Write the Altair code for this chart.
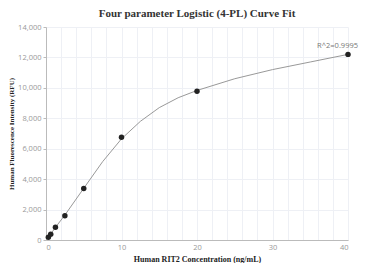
import altair as alt
import pandas as pd

conc = [0.3125, 0.625, 1.25, 2.5, 5, 10, 20, 40]
signal = [180, 380, 840, 1600, 3380, 6750, 9780, 12200]

curve_x = [0.15, 0.3125, 0.625, 1.25, 2.5, 5, 7.5, 10, 12.5, 15, 17.5, 20, 25, 30, 35, 40]
curve_y = [80, 180, 390, 830, 1640, 3400, 5150, 6650, 7800, 8700, 9350, 9830, 10600, 11200, 11700, 12200]

x_grid = list(range(0, 41, 2))
y_ticks = list(range(0, 14001, 2000))
title_text = "Four parameter Logistic (4-PL) Curve Fit"
x_title = "Human RIT2 Concentration (ng/mL)"
y_title = "Human Fluorescence Intensity (RFU)"
r2_label = "R^2=0.9995"

pts = pd.DataFrame({"x": conc, "y": signal})
crv = pd.DataFrame({"x": curve_x, "y": curve_y})
lab = pd.DataFrame({"x": [conc[-1]], "y": [signal[-1]], "t": [r2_label]})

xscale = alt.Scale(domain=[0, 40], nice=False, zero=True)
yscale = alt.Scale(domain=[0, 14000], nice=False)

xaxis = alt.Axis(values=x_grid, labelExpr="datum.value % 10 == 0 ? datum.label : ''",
                 ticks=False, labelOverlap=False, labelColor="#999", labelFontSize=7.5,
                 labelFont="Open Sans", domainColor="#bbb", gridColor="#eef0f5", title=x_title,
                 titleFont="Times New Roman", titleFontSize=8, titleFontWeight="bold",
                 titleColor="#222", titlePadding=5, labelPadding=3)
yaxis = alt.Axis(values=y_ticks, format=",d", tickSize=3, tickColor="#bbb", labelOverlap=False,
                 labelColor="#999", labelFontSize=7.5, labelFont="Open Sans",
                 domainColor="#bbb", gridColor="#eef0f5", title=y_title,
                 titleFont="Times New Roman", titleFontSize=7, titleFontWeight="bold",
                 titleColor="#222", titlePadding=3, labelPadding=2)

enc_x = alt.X("x:Q", scale=xscale, axis=xaxis)
enc_y = alt.Y("y:Q", scale=yscale, axis=yaxis)

line = alt.Chart(crv).mark_line(color="#999", strokeWidth=1).encode(x=enc_x, y=enc_y)
points = alt.Chart(pts).mark_circle(color="#222", size=30, opacity=1).encode(x=enc_x, y=enc_y)
text = alt.Chart(lab).mark_text(align="right", baseline="bottom", dx=10, dy=-4,
                                fontSize=7.5, color="#777", font="Open Sans").encode(
    x=enc_x, y=enc_y, text="t:N",
)

chart = (line + points + text).properties(
    width=302, height=213,
    title=alt.TitleParams(title_text, font="Times New Roman", fontSize=11, fontWeight="bold",
                          color="#333", anchor="middle", offset=4),
    autosize=alt.AutoSizeParams(type="none"),
    padding={"left": 38, "top": 19, "right": 11, "bottom": 23},
).configure_view(stroke=None)

chart.save("out.html", embed_options={"renderer": "svg", "actions": False})
